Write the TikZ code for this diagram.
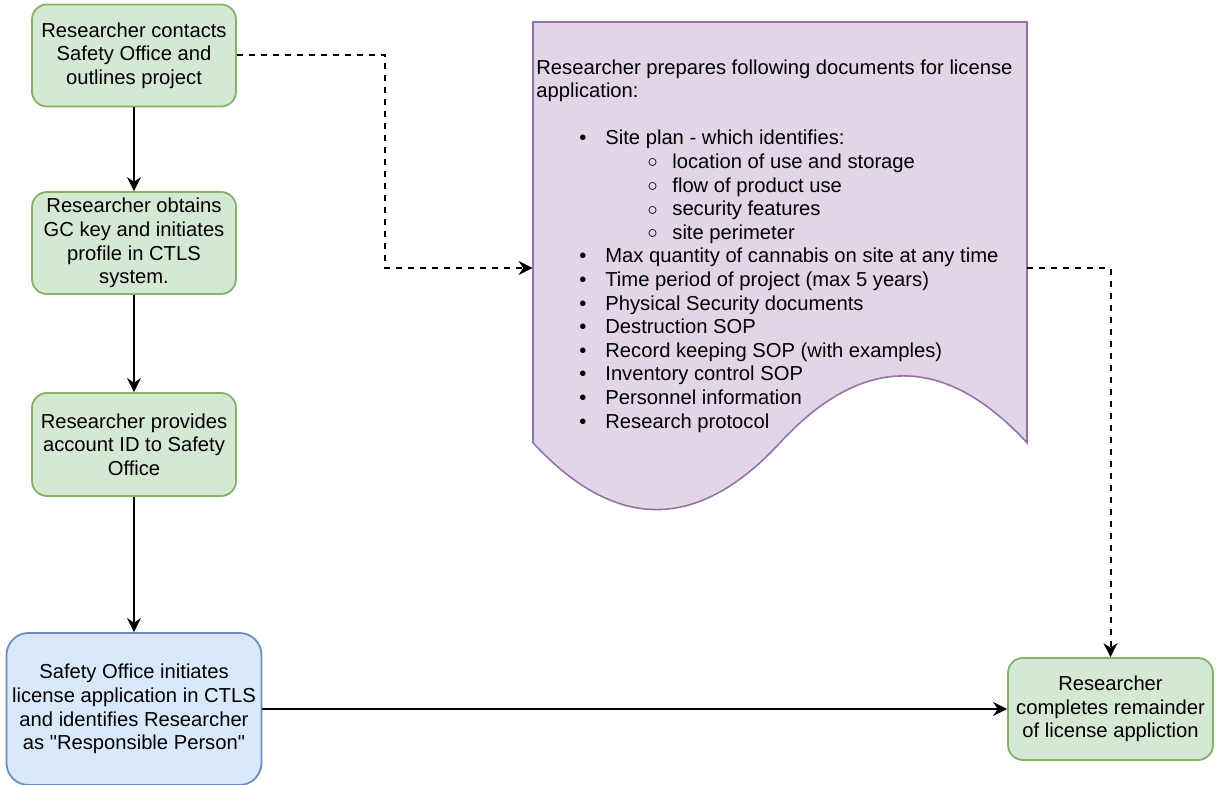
\documentclass[tikz,border=0pt]{standalone}
\usepackage{fontspec}
\setmainfont{Liberation Sans}[Ligatures=TeXOff]
\usetikzlibrary{arrows.meta}
\definecolor{gfill}{HTML}{D5E8D4}
\definecolor{gline}{HTML}{82B366}
\definecolor{bfill}{HTML}{DAE8FC}
\definecolor{bline}{HTML}{6C8EBF}
\definecolor{pfill}{HTML}{E1D5E7}
\definecolor{pline}{HTML}{9673A6}
\newcommand\bitem[1]{\makebox[34.5pt][l]{\hspace*{21.5pt}\textbullet}#1}
\newcommand\sitem[1]{\makebox[68pt][l]{\hspace*{55.6pt}\raisebox{0.3pt}{$\circ$}}#1}
\begin{document}
\begin{tikzpicture}[x=0.5pt,y=-0.5pt,
  font=\fontsize{10.1}{11.8}\selectfont,
  gbox/.style={draw=gline, fill=gfill, line width=0.9pt, rounded corners=7.5pt,
    align=center, inner sep=2pt, text=black},
  bbox/.style={draw=bline, fill=bfill, line width=0.9pt, rounded corners=11pt,
    align=center, inner sep=2pt, text=black},
  arr/.style={-{Stealth[length=7pt,width=7pt,inset=2.3pt]}, line width=1pt},
  darr/.style={arr, dash pattern=on 3pt off 3pt}]
\useasboundingbox (0,0) rectangle (1216,785);

% document shape
\draw[draw=pline, fill=pfill, line width=0.8pt]
  (533,22) -- (1027,22) -- (1027,442.75)
  .. controls (944.67,353.65) and (862.33,353.65) .. (780,442.75)
  .. controls (697.67,531.85) and (615.33,531.85) .. (533,442.75) -- cycle;
\node[minimum width=247pt, minimum height=246pt, inner sep=0pt] (doc) at (780,268) {};
\node[anchor=north west, inner sep=0pt, align=left] (doctext) at (536,59) {%
Researcher prepares following documents for license\\
application:\\[11.8pt]
\bitem{Site plan - which identifies:}\\
\sitem{location of use and storage}\\
\sitem{flow of product use}\\
\sitem{security features}\\
\sitem{site perimeter}\\
\bitem{Max quantity of cannabis on site at any time}\\
\bitem{Time period of project (max 5 years)}\\
\bitem{Physical Security documents}\\
\bitem{Destruction SOP}\\
\bitem{Record keeping SOP (with examples)}\\
\bitem{Inventory control SOP}\\
\bitem{Personnel information}\\
\bitem{Research protocol}};

\node[gbox, minimum width=102pt, minimum height=51pt] (b1) at (134,55.5)
  {Researcher contacts\\Safety Office and\\outlines project};
\node[gbox, minimum width=102pt, minimum height=51pt] (b2) at (134,243)
  {Researcher obtains\\GC key and initiates\\profile in CTLS\\system.};
\node[gbox, minimum width=102pt, minimum height=51.5pt] (b3) at (134,444.5)
  {Researcher provides\\account ID to Safety\\Office};
\node[bbox, minimum width=127.5pt, minimum height=76pt] (b4) at (134,709)
  {Safety Office initiates\\license application in CTLS\\and identifies Researcher\\as "Responsible Person"};
\node[gbox, minimum width=102.5pt, minimum height=51pt] (b5) at (1110.5,709)
  {Researcher\\completes remainder\\of license appliction};

\draw[arr] (b1) -- (b2);
\draw[arr] (b2) -- (b3);
\draw[arr] (b3) -- (b4);
\draw[arr] (b4) -- (b5);
\coordinate (k1) at (385,268);
\draw[darr] (b1.east) -| (k1) -- (doc.west);
\draw[darr] (doc.east) -| (b5.north);
\end{tikzpicture}
\end{document}
